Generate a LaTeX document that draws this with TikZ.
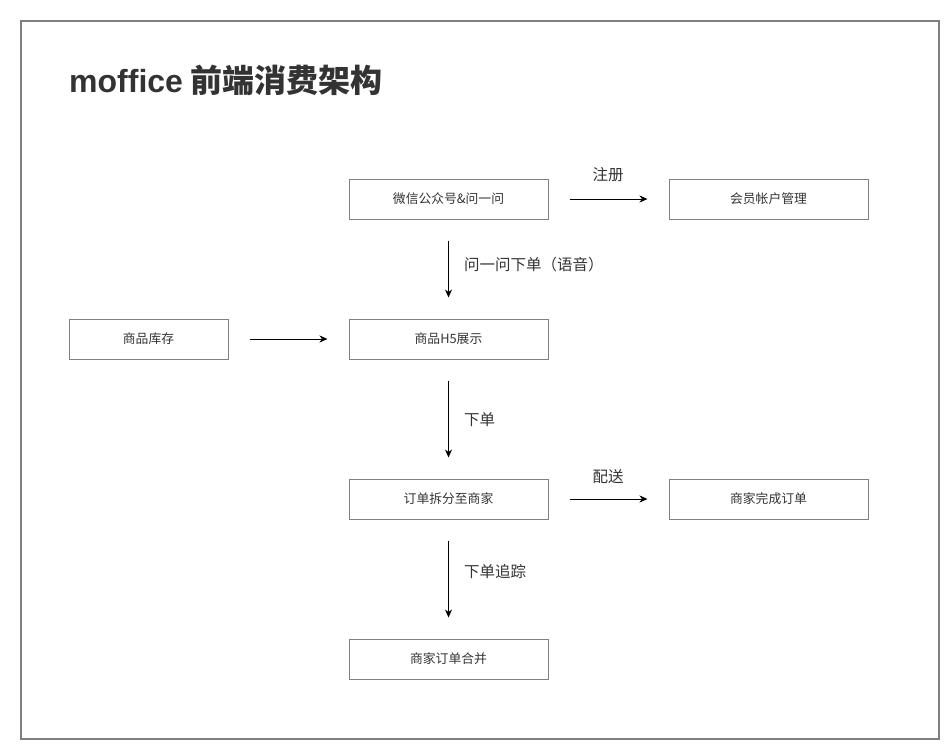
\documentclass[tikz,border=0pt]{standalone}
\usepackage{fontspec}
\setmainfont{Noto Sans CJK SC}
\newfontfamily\latinbold{Liberation Sans}
\usetikzlibrary{arrows.meta}
\definecolor{frame}{HTML}{808080}
\definecolor{txt}{HTML}{333333}
\tikzset{
  box/.style={draw=frame, line width=1pt, minimum width=199pt, minimum height=40pt, inner sep=0pt, text=txt, font=\fontsize{12.8}{14}\selectfont},
  smallbox/.style={box, minimum width=159pt},
  conn/.style={-{Stealth[length=8pt,width=7pt,inset=2.5pt]}, line width=1pt, black, shorten >=21pt, shorten <=21pt},
  lbl/.style={text=txt, font=\fontsize{15.5}{17}\selectfont, inner sep=0pt}
}
\begin{document}
\begin{tikzpicture}[x=1pt,y=-1pt]
\useasboundingbox (0,0) rectangle (949,749);
\draw[frame, line width=2pt] (21,21) rectangle (939,739);
\node[anchor=west, text=txt, inner sep=0pt, font=\fontsize{32}{36}\selectfont\bfseries] (title) at (69,80) {{\latinbold\bfseries moffice} 前端消费架构};
\node[box] (wx) at (448.5,199) {微信公众号\&问一问};
\node[box] (hy) at (768.5,199) {会员帐户管理};
\node[smallbox] (kc) at (148.5,339) {商品库存};
\node[box] (h5) at (448.5,339) {商品H5展示};
\node[box] (cf) at (448.5,499) {订单拆分至商家};
\node[box] (wc) at (768.5,499) {商家完成订单};
\node[box] (hb) at (448.5,659) {商家订单合并};
\draw[conn] (wx.east) -- (hy.west);
\draw[conn] (wx.south) -- (h5.north);
\draw[conn] (kc.east) -- (h5.west);
\draw[conn] (h5.south) -- (cf.north);
\draw[conn] (cf.east) -- (wc.west);
\draw[conn] (cf.south) -- (hb.north);
\node[lbl] (l1) at (608,175) {注册};
\node[lbl, anchor=west] (l2) at (464,265) {问一问下单（语音）};
\node[lbl, anchor=west] (l3) at (464,420) {下单};
\node[lbl] (l4) at (608,477) {配送};
\node[lbl, anchor=west] (l5) at (464,572) {下单追踪};
\end{tikzpicture}
\end{document}
